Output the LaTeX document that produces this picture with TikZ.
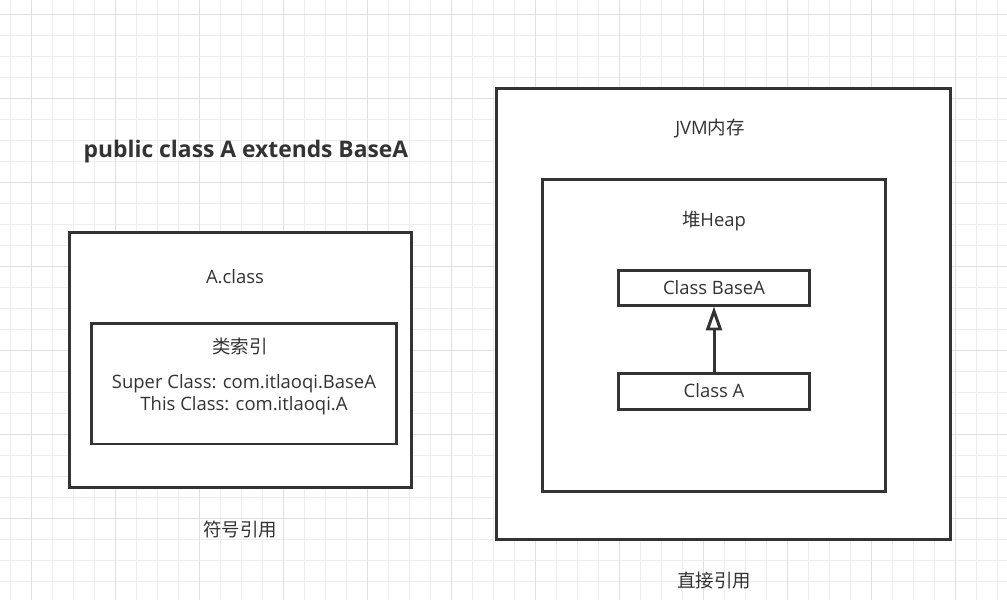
\documentclass[tikz,border=0pt]{standalone}
\usepackage{fontspec}
\setmainfont{Open Sans}
\newfontfamily\cjk{Noto Sans CJK SC}
\usetikzlibrary{arrows.meta}
\definecolor{inkgray}{HTML}{333333}
\definecolor{gridminor}{HTML}{EDEDED}
\definecolor{gridmajor}{HTML}{DFDFDF}
\tikzset{
  box/.style={draw=inkgray, line width=1.7pt, fill=white, inner sep=0pt},
  lbl/.style={text=inkgray, font=\fontsize{10.5}{12.5}\selectfont, inner sep=0pt, align=center},
  title/.style={text=inkgray, font=\fontsize{13}{15}\selectfont\bfseries, inner sep=0pt},
  inherit/.style={draw=inkgray, line width=1.7pt, -{Triangle[open, length=4.8mm, width=3.2mm]}}
}

\begin{document}
\begin{tikzpicture}[x=0.02cm, y=-0.02cm]
  \useasboundingbox (0,0) rectangle (1007,600);
  % grid
  \fill[white] (0,0) rectangle (1007,600);
  \foreach \k in {0,...,47}
    \draw[gridminor, line width=0.5pt] ({10.7+21*\k},0) -- ({10.7+21*\k},600);
  \foreach \k in {0,...,27}
    \draw[gridminor, line width=0.5pt] (0,{14+21*\k}) -- (1007,{14+21*\k});
  \foreach \k in {0,...,11}
    \draw[gridmajor, line width=0.5pt] ({31.7+84*\k},0) -- ({31.7+84*\k},600);
  \foreach \k in {0,...,6}
    \draw[gridmajor, line width=0.5pt] (0,{14+84*\k}) -- (1007,{14+84*\k});

  % left side: class file
  \node[title] (decl) at (246,152) {public class A extends BaseA};
  \node[box, minimum width=6.86cm, minimum height=5.12cm] (aclass) at (240.5,360) {};
  \node[box, minimum width=6.12cm, minimum height=2.42cm] (index) at (244,383.5) {};
  \node[lbl] (aclasslbl) at (235,277) {A.class};
  \node[lbl] (indexlbl) at (240,346) {\cjk 类索引};
  \node[lbl] (indexbody) at (244,395) {Super Class: com.itlaoqi.BaseA\\This Class: com.itlaoqi.A};
  \node[lbl] (symref) at (240,529) {\cjk 符号引用};

  % right side: JVM memory
  \node[box, minimum width=9.1cm, minimum height=9.04cm] (jvm) at (723.5,314) {};
  \node[box, minimum width=6.88cm, minimum height=6.26cm] (heap) at (714,335.5) {};
  \node[lbl] (jvmlbl) at (710,128) {JVM{\cjk 内存}};
  \node[lbl] (heaplbl) at (714,221) {{\cjk 堆}Heap};
  \node[box, lbl, minimum width=3.84cm, minimum height=0.7cm] (basea) at (714,287.5) {Class BaseA};
  \node[box, lbl, minimum width=3.84cm, minimum height=0.72cm] (classa) at (714,391) {Class A};
  \draw[inherit] (classa) -- (basea);
  \node[lbl] (directref) at (714,581) {\cjk 直接引用};
\end{tikzpicture}
\end{document}
